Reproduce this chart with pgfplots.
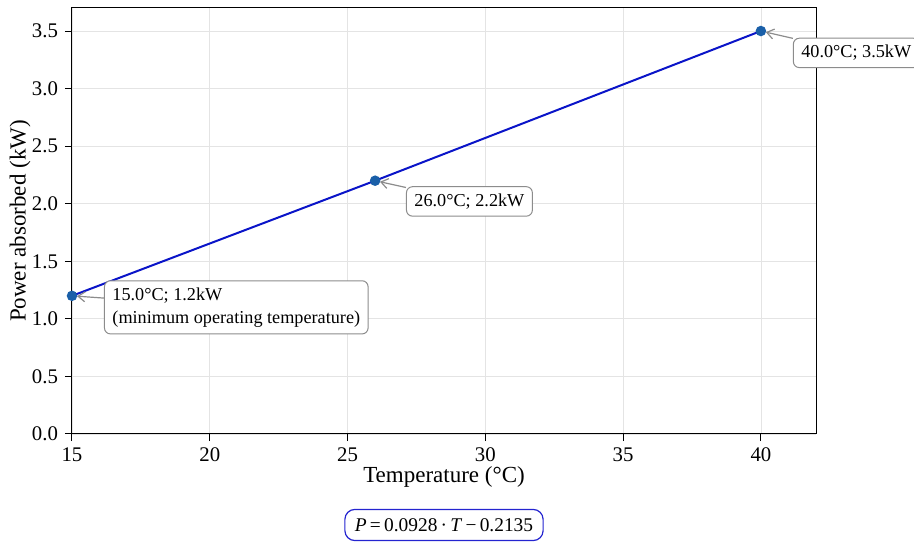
\documentclass[border=0pt]{standalone}
\usepackage{fontspec}
\setmainfont{Liberation Serif}
\usepackage{pgfplots}
\pgfplotsset{compat=1.18}
\usetikzlibrary{calc,arrows.meta}
\definecolor{lineblue}{HTML}{0A14C8}
\definecolor{markblue}{HTML}{1A5FA8}
\definecolor{gridgray}{HTML}{E4E4E4}
\definecolor{anngray}{HTML}{8C8C8C}
\definecolor{formblue}{HTML}{2424D0}
\tikzset{ann/.style={draw=anngray, fill=white, rounded corners=3pt, inner xsep=4pt, inner ysep=3.5pt,
  font=\fontsize{9.1}{11.3}\selectfont, align=left, line width=0.5pt},
  annarrow/.style={anngray, line width=0.6pt, -{Straight Barb[length=3.5pt,width=5pt]}, shorten >=2.5pt}}
\begin{document}
\begin{tikzpicture}
\begin{axis}[
 scale only axis, width=372pt, height=213pt,
 xmin=15, xmax=42, ymin=0, ymax=3.7,
 xtick={15,20,...,40}, ytick={0,0.5,...,3.5},
 yticklabel style={/pgf/number format/.cd, fixed, fixed zerofill, precision=1},
 /pgf/number format/assume math mode=true,
 tick label style={font=\fontsize{10.4}{12}\selectfont},
 tick align=outside, tick pos=left, major tick length=3.5pt,
 grid=major, grid style={gridgray, line width=0.4pt},
 axis line style={black, line width=0.5pt},
 every tick/.style={black, line width=0.5pt},
 xlabel={Temperature (°C)}, ylabel={Power absorbed (kW)},
 label style={font=\fontsize{11.5}{13}\selectfont},
 xlabel style={at={(rel axis cs:0.5,0)}, anchor=center, yshift=-21.5pt},
 ylabel style={at={(rel axis cs:0,0.5)}, anchor=center, yshift=26pt},
 clip=false,
]
\addplot[lineblue, line width=1pt, mark=*, mark size=2.1pt, mark options={draw=markblue, fill=markblue}]
  coordinates {(15,1.2) (26,2.2) (40,3.5)};
\coordinate (bl) at (rel axis cs:0,0);
\node[ann, anchor=west] (b1) at (axis cs:16.16,1.10) {15.0°C; 1.2kW\\(minimum operating temperature)};
\node[ann, anchor=west] (b2) at (axis cs:27.12,2.02) {26.0°C; 2.2kW};
\node[ann, anchor=west] (b3) at (axis cs:41.16,3.31) {40.0°C; 3.5kW};
\draw[annarrow] (b1) -- (axis cs:15,1.2);
\draw[annarrow] (b2) -- (axis cs:26,2.2);
\draw[annarrow] (b3) -- (axis cs:40,3.5);
\end{axis}
\node[draw=formblue, line width=0.6pt, rounded corners=5pt, inner xsep=5pt, inner ysep=4.5pt,
  font=\fontsize{9.7}{11}\selectfont] at ($(bl)+(186pt,-45.5pt)$)
  {\textit{P}\,=\,0.0928\,·\,\textit{T}\,−\,0.2135};
\pgfresetboundingbox
\path ($(bl)+(-36pt,-55.5pt)$) rectangle ($(bl)+(421pt,217pt)$);
\end{tikzpicture}
\end{document}
